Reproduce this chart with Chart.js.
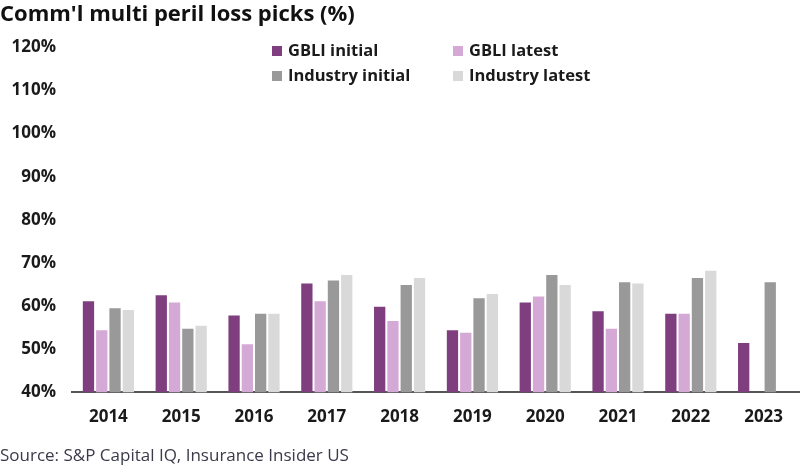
<!DOCTYPE html>
<html>
<head>
<meta charset="utf-8">
<script src="https://cdn.jsdelivr.net/npm/chart.js@4"></script>
<style>
  html, body { margin: 0; padding: 0; background: #fff; }
  #wrap { width: 800px; height: 467px; position: relative; }
</style>
</head>
<body>
<div id="wrap"><canvas id="myChart"></canvas></div>
<script>
const years = ['2014', '2015', '2016', '2017', '2018', '2019', '2020', '2021', '2022', '2023']
const gbliInitial = [61.1, 62.5, 57.8, 65.2, 59.8, 54.4, 60.8, 58.8, 58.2, 51.4]
const gbliLatest = [54.4, 60.8, 51.1, 61.1, 56.5, 53.8, 62.2, 54.7, 58.2, null]
const industryInitial = [59.5, 54.7, 58.2, 65.9, 64.9, 61.8, 67.2, 65.5, 66.5, 65.5]
const industryLatest = [59.1, 55.4, 58.2, 67.2, 66.5, 62.8, 64.9, 65.2, 68.2, null]
const seriesNames = ['GBLI initial', 'GBLI latest', 'Industry initial', 'Industry latest']
const colors = ['#7f3f7f', '#d5a9d5', '#999999', '#d9d9d9']

const font = '"Open Sans", sans-serif'

// legend drawn as a 2x2 grid like the original
const gridLegend = {
    id: 'gridLegend',
    afterDraw(chart) {
        const ctx = chart.ctx
        const cols = [272, 453]
        const rows = [51, 76]
        ctx.save()
        ctx.font = 'bold 16.5px ' + font
        ctx.textBaseline = 'middle'
        chart.data.datasets.forEach((ds, i) => {
            const x = cols[i % 2]
            const y = rows[Math.floor(i / 2)]
            ctx.fillStyle = ds.backgroundColor
            ctx.fillRect(x, y - 5, 10, 10)
            ctx.fillStyle = '#1a1a1a'
            ctx.fillText(ds.label, x + 16, y)
        })
        ctx.restore()
    }
}

const grData = {
    labels: years,
    datasets: [gbliInitial, gbliLatest, industryInitial, industryLatest].map((d, i) => ({
        label: seriesNames[i],
        data: d,
        backgroundColor: colors[i],
        categoryPercentage: 0.73,
        barPercentage: 0.85
    }))
}

const config = {
    type: 'bar',
    data: grData,
    options: {
        responsive: true,
        maintainAspectRatio: false,
        animation: false,
        layout: { padding: { left: 0, right: 0, top: 0, bottom: 0 } },
        plugins: {
            legend: { display: false },
            tooltip: { enabled: false },
            title: {
                display: true,
                text: "Comm'l multi peril loss picks (%)",
                align: 'start',
                color: '#111',
                font: { family: font, size: 22, weight: 'bold' },
                padding: { top: 2, bottom: 19 }
            },
            subtitle: {
                display: true,
                position: 'bottom',
                text: 'Source: S&P Capital IQ, Insurance Insider US',
                align: 'start',
                color: '#3a3a4a',
                font: { family: font, size: 17 },
                padding: { top: 3, bottom: 1 }
            }
        },
        scales: {
            x: {
                grid: { display: false, drawTicks: false },
                border: { display: true, color: '#555', width: 2 },
                ticks: {
                    color: '#1a1a1a',
                    padding: 15,
                    font: { family: font, size: 17, weight: 'bold' }
                }
            },
            y: {
                min: 40,
                max: 120,
                grid: { display: false, drawTicks: false },
                border: { display: false },
                afterFit: (scale) => { scale.width = 72 },
                ticks: {
                    stepSize: 10,
                    padding: 16,
                    color: '#1a1a1a',
                    font: { family: font, size: 17, weight: 'bold' },
                    callback: (v) => v + '%'
                }
            }
        }
    },
    plugins: [gridLegend]
}

const myChart = new Chart(document.getElementById('myChart'), config)
</script>
</body>
</html>
